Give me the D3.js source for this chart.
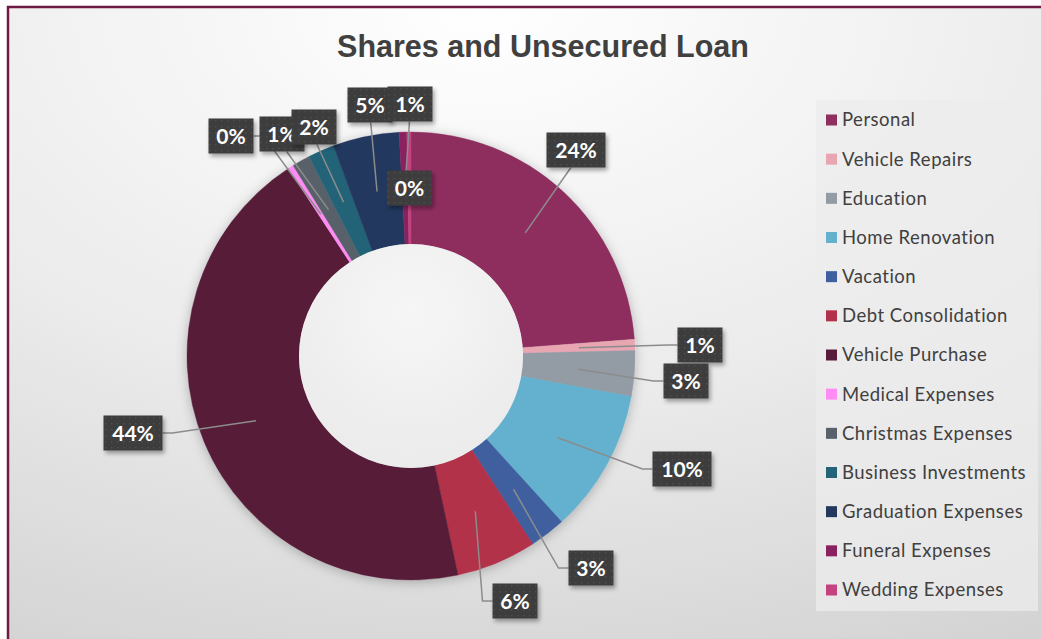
<!DOCTYPE html>
<html>
  <meta charset="utf-8" />
  <style>
    body {
      margin: 0;
      background: #fff;
    }
    text {
      font-family: Lato, "DejaVu Sans", sans-serif;
    }
  </style>
  <body>
    <script src="https://d3js.org/d3.v7.min.js"></script>
    <script>
      let width = 1041,
        height = 639;

      // data
      let categories = [
        "Personal",
        "Vehicle Repairs",
        "Education",
        "Home Renovation",
        "Vacation",
        "Debt Consolidation",
        "Vehicle Purchase",
        "Medical Expenses",
        "Christmas Expenses",
        "Business Investments",
        "Graduation Expenses",
        "Funeral Expenses",
        "Wedding Expenses",
      ];
      let values = [23.9, 0.8, 3.3, 10.4, 2.6, 5.8, 44.3, 0.4, 1.3, 1.9, 4.8, 0.55, 0.3];
      let colors = [
        "#8e2f5f",
        "#e8a6b3",
        "#939ba5",
        "#64b1ce",
        "#3f5f9f",
        "#b2304a",
        "#561c39",
        "#ff8cf4",
        "#59616a",
        "#246378",
        "#24385e",
        "#8a2260",
        "#c4427f",
      ];

      // label box centres relative to donut centre (null = sits on the slice)
      let labelOffsets = [
        [165, -206],
        [289, -11],
        [275, 25],
        [271, 113],
        [180, 212],
        [104, 245],
        [-278, 77],
        [-180, -220],
        [-129, -222],
        [-97, -229],
        [-41, -251],
        [-1, -252],
        null,
      ];

      let cx = 411,
        cy = 356,
        outerR = 224,
        innerR = 112;

      let svg = d3
        .select("body")
        .append("svg")
        .attr("width", width)
        .attr("height", height);

      let defs = svg.append("defs");

      let bg = defs
        .append("radialGradient")
        .attr("id", "bg")
        .attr("cx", "45%")
        .attr("cy", "0%")
        .attr("r", "110%");
      bg.append("stop").attr("offset", "0%").attr("stop-color", "#ffffff");
      bg.append("stop").attr("offset", "55%").attr("stop-color", "#ebebeb");
      bg.append("stop").attr("offset", "100%").attr("stop-color", "#d3d3d3");

      let hole = defs
        .append("radialGradient")
        .attr("id", "hole")
        .attr("cx", "50%")
        .attr("cy", "30%")
        .attr("r", "70%");
      hole.append("stop").attr("offset", "0%").attr("stop-color", "#f6f6f6");
      hole.append("stop").attr("offset", "100%").attr("stop-color", "#ebebeb");

      let shadow = defs
        .append("filter")
        .attr("id", "shadow")
        .attr("x", "-20%")
        .attr("y", "-20%")
        .attr("width", "140%")
        .attr("height", "140%");
      shadow
        .append("feDropShadow")
        .attr("dx", 0)
        .attr("dy", 2)
        .attr("stdDeviation", 6)
        .attr("flood-color", "#000")
        .attr("flood-opacity", 0.25);

      let boxShadow = defs
        .append("filter")
        .attr("id", "boxShadow")
        .attr("x", "-30%")
        .attr("y", "-30%")
        .attr("width", "160%")
        .attr("height", "170%");
      boxShadow
        .append("feDropShadow")
        .attr("dx", 2)
        .attr("dy", 3)
        .attr("stdDeviation", 2)
        .attr("flood-color", "#000")
        .attr("flood-opacity", 0.35);

      let dots = defs
        .append("pattern")
        .attr("id", "dots")
        .attr("width", 6)
        .attr("height", 6)
        .attr("patternUnits", "userSpaceOnUse");
      dots.append("rect").attr("width", 6).attr("height", 6).attr("fill", "#3d3d3d");
      dots
        .append("rect")
        .attr("x", 2)
        .attr("y", 2)
        .attr("width", 1.5)
        .attr("height", 1.5)
        .attr("fill", "#4d4d4d");

      // background and frame
      svg
        .append("rect")
        .attr("x", 0)
        .attr("y", 0)
        .attr("width", width)
        .attr("height", height)
        .attr("fill", "#ffffff");
      svg
        .append("rect")
        .attr("x", 8)
        .attr("y", 7)
        .attr("width", width + 10)
        .attr("height", height + 10)
        .attr("fill", "url(#bg)")
        .attr("stroke", "#6e1a45")
        .attr("stroke-width", 2.5);

      svg
        .append("text")
        .attr("x", 543)
        .attr("y", 57)
        .attr("text-anchor", "middle")
        .style("font-family", "'Liberation Sans', Arial, sans-serif")
        .style("font-weight", "bold")
        .style("font-size", "30.5px")
        .attr("fill", "#404040")
        .text("Shares and Unsecured Loan");

      let data = categories.map((c, i) => ({
        name: c,
        value: values[i],
        color: colors[i],
        offset: labelOffsets[i],
      }));
      let total = d3.sum(values);

      let pie = d3.pie().sort(null).value((d) => d.value);
      let arc = d3.arc().innerRadius(innerR).outerRadius(outerR);
      let mid = d3
        .arc()
        .innerRadius((innerR + outerR) / 2)
        .outerRadius((innerR + outerR) / 2);

      let arcs = pie(data);

      let g = svg.append("g").attr("transform", `translate(${cx},${cy})`);

      g.append("g")
        .attr("filter", "url(#shadow)")
        .selectAll("path")
        .data(arcs)
        .join("path")
        .attr("d", arc)
        .attr("fill", (d) => d.data.color)
        .attr("stroke", (d) => d.data.color)
        .attr("stroke-width", 0.4);

      g.append("circle")
        .attr("r", innerR)
        .attr("fill", "url(#hole)");

      // leader lines
      let boxW = (d) => (Math.round((d.data.value / total) * 100) >= 10 ? 59 : 45),
        boxH = 35;

      let leaders = g.append("g");
      arcs.forEach((d) => {
        if (!d.data.offset) return;
        let [px, py] = mid.centroid(d);
        let [lx, ly] = d.data.offset;
        let w = boxW(d);
        let pts;
        if (ly < -200 && lx > -150) {
          // labels above the ring: line comes out of the bottom edge
          pts = [
            [px, py],
            [lx + (px - lx) * 0.1, ly + boxH / 2],
          ];
        } else {
          let ex = lx > px ? lx - w / 2 : lx + w / 2;
          let kx = lx > px ? ex - 10 : ex + 10;
          pts = [
            [px, py],
            [kx, ly],
            [ex, ly],
          ];
        }
        leaders
          .append("path")
          .attr("d", d3.line()(pts))
          .attr("fill", "none")
          .attr("stroke", "#8c8c8c")
          .attr("stroke-width", 1.5);
      });

      // label boxes
      let labels = g
        .append("g")
        .selectAll("g")
        .data(arcs)
        .join("g")
        .attr("transform", (d) => {
          let p = d.data.offset || mid.centroid(d);
          return `translate(${p[0]},${p[1]})`;
        });

      labels
        .append("rect")
        .attr("x", (d) => -boxW(d) / 2)
        .attr("y", -boxH / 2)
        .attr("width", (d) => boxW(d))
        .attr("height", boxH)
        .attr("fill", "url(#dots)")
        .attr("filter", "url(#boxShadow)");

      labels
        .append("text")
        .attr("text-anchor", "middle")
        .attr("dy", "0.36em")
        .attr("fill", "#ffffff")
        .style("font-weight", "bold")
        .style("font-size", "21px")
        .text((d) => Math.round((d.data.value / total) * 100) + "%");

      // legend
      let legend = svg.append("g");
      legend
        .append("rect")
        .attr("x", 816)
        .attr("y", 100)
        .attr("width", 222)
        .attr("height", 511)
        .attr("fill", "#ececec")
        .attr("opacity", 0.75);

      let legendY = d3
        .scalePoint()
        .domain(categories)
        .range([120, 590]);

      let items = legend
        .selectAll("g.item")
        .data(data)
        .join("g")
        .attr("class", "item")
        .attr("transform", (d) => `translate(826,${legendY(d.name)})`);

      items
        .append("rect")
        .attr("x", 0)
        .attr("y", -5.5)
        .attr("width", 11)
        .attr("height", 11)
        .attr("fill", (d) => d.color);

      items
        .append("text")
        .attr("x", 16)
        .attr("dy", "0.35em")
        .attr("fill", "#404040")
        .style("font-size", "18.5px")
        .style("letter-spacing", "0.5px")
        .text((d) => d.name);
    </script>
  </body>
</html>
